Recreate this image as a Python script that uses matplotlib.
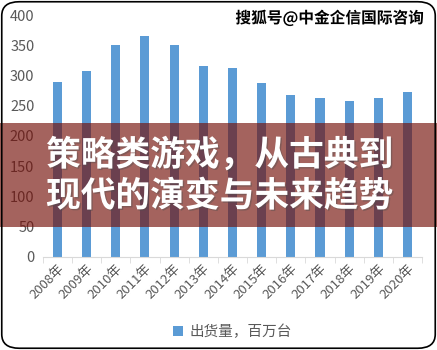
import matplotlib.pyplot as plt
from matplotlib import patheffects
from matplotlib.patches import Rectangle, FancyBboxPatch

plt.rcParams['font.family'] = ['Noto Sans CJK SC', 'DejaVu Sans']

years = ['2008年', '2009年', '2010年', '2011年', '2012年', '2013年', '2014年',
         '2015年', '2016年', '2017年', '2018年', '2019年', '2020年']
shipments = [290, 307, 350, 365, 350, 315, 313, 287, 268, 262, 258, 262, 273]
series_name = '出货量，百万台'
banner_lines = ['策略类游戏，从古典到', '现代的演变与未来趋势']
watermark = '搜狐号@中金企信国际咨询'

fig = plt.figure(figsize=(4.37, 3.5), dpi=100)
ax = fig.add_axes([0.098, 0.266, 0.868, 0.691])

x = range(len(years))
ax.bar(x, shipments, width=0.31, color='#5b9bd5', label=series_name, zorder=2)
ax.set_xlim(-0.5, len(years) - 0.5)
ax.set_ylim(0, 400)
ax.set_yticks(range(0, 401, 50))
ax.set_xticks(list(x))
ax.set_xticklabels(years, rotation=45, ha='right', rotation_mode='anchor')
ax.tick_params(axis='y', length=0, labelsize=10.5, colors='#595959', pad=6)
ax.tick_params(axis='x', length=0, labelsize=9.5, colors='#595959', pad=4)
# category boundary ticks
ax.set_xticks([i - 0.5 for i in range(len(years) + 1)], minor=True)
ax.tick_params(axis='x', which='minor', length=4, color='#d9d9d9')
for side in ['top', 'right', 'left']:
    ax.spines[side].set_visible(False)
ax.spines['bottom'].set_color('#d9d9d9')

ax.legend(loc='upper center', bbox_to_anchor=(0.5, -0.225), frameon=False,
          handlelength=0.7, handleheight=0.7, fontsize=10.5, labelcolor='#595959',
          handletextpad=0.4)

# red banner over the chart
fig.patches.append(Rectangle((0.0, 0.351), 1.0, 0.298, transform=fig.transFigure,
                             facecolor=(116/255, 15/255, 8/255), alpha=0.65,
                             edgecolor='none', zorder=5))
for i, line in enumerate(banner_lines):
    t = fig.text(0.503, 0.557 - i * 0.117, line, ha='center', va='center',
                 fontsize=25, fontweight='heavy', color='white', zorder=6)
    t.set_path_effects([patheffects.withSimplePatchShadow(offset=(1, -1), alpha=0.4)])

wm = fig.text(0.755, 0.948, watermark, ha='center', va='center', fontsize=11.3,
              fontweight='bold', color='black', zorder=6)
wm.set_path_effects([patheffects.withStroke(linewidth=2, foreground='white')])

fig.patches.append(FancyBboxPatch((0.004, 0.005), 0.992, 0.99, transform=fig.transFigure,
                                  boxstyle='round,pad=0,rounding_size=0.04',
                                  facecolor='none', edgecolor='black', linewidth=1.2,
                                  zorder=7))

fig.savefig('out.png', dpi=100)
